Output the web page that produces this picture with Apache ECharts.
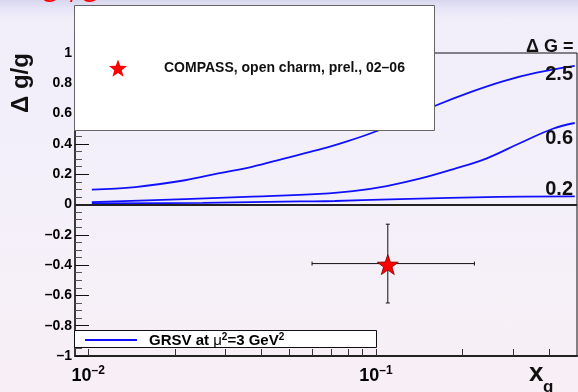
<!DOCTYPE html>
<html><head><meta charset="utf-8">
<script src="https://cdn.jsdelivr.net/npm/echarts@6/dist/echarts.min.js"></script>
<style>
html,body{margin:0;padding:0;}
#c{width:578px;height:392px;background:linear-gradient(to bottom,#d6d6ee 0px,#e6e4f6 8px,#f1eefa 18px,#f3f0fa 45%,#f8eff5 100%);}
</style>
</head><body><div id="c"></div>
<script>
// ---- data ----
const curve25 = [[0.0103,0.098],[0.0146,0.115],[0.0217,0.16],[0.0283,0.205],[0.0371,0.249],[0.0483,0.305],[0.0629,0.36],[0.0721,0.392],[0.0992,0.48],[0.16,0.65],[0.212,0.74],[0.276,0.813],[0.362,0.87],[0.491,0.915]];
const curve06 = [[0.0103,0.016],[0.0217,0.036],[0.0371,0.052],[0.0639,0.07],[0.0832,0.088],[0.109,0.122],[0.142,0.17],[0.185,0.232],[0.243,0.305],[0.316,0.404],[0.412,0.5],[0.491,0.538]];
const curve02 = [[0.0103,0.007],[0.025,0.011],[0.0545,0.02],[0.0721,0.023],[0.112,0.034],[0.18,0.044],[0.268,0.05],[0.491,0.053]];
// point: x, y, xLow, xHigh, yLow, yHigh
const compassPoint = [[0.11, -0.39, 0.06, 0.22, -0.65, -0.13]];
const xTickValues = [0.01,0.02,0.03,0.04,0.05,0.06,0.07,0.08,0.09,0.1,0.2,0.3,0.4];
const xLabelValues = [0.01,0.1];
const curveLabels = ['2.5','0.6','0.2'];
const legendTexts = ['COMPASS, open charm, prel., 02\u201306','GRSV at '];

const FONT = '"Liberation Sans", Arial, Helvetica, sans-serif';
const BLUE = '#1010ff';
const STAR = 'path://M0,-10 L2.35,-3.24 L9.51,-3.09 L3.8,1.24 L5.88,8.09 L0,4 L-5.88,8.09 L-3.8,1.24 L-9.51,-3.09 L-2.35,-3.24 Z';

function starPts(cx, cy, R, r) {
  const p = [];
  for (let i = 0; i < 10; i++) {
    const a = -Math.PI / 2 + i * Math.PI / 5;
    const rad = i % 2 ? r : R;
    p.push([cx + rad * Math.cos(a), cy + rad * Math.sin(a)]);
  }
  return p;
}

const chart = echarts.init(document.getElementById('c'), null, {renderer: 'canvas'});
const lineStyle = {color: BLUE, width: 1.8};
const option = {
  backgroundColor: 'transparent',
  animation: false,
  grid: {left: 75, right: 1, top: 53, bottom: 36, show: true, borderColor: '#111', borderWidth: 1, backgroundColor: 'transparent'},
  xAxis: {
    type: 'log', logBase: 10, min: 0.009, max: 0.5,
    axisLine: {show: true, onZero: false, lineStyle: {color: '#222', width: 2}},
    axisTick: {show: true, inside: true, length: 7, customValues: xTickValues, lineStyle: {color: '#333', width: 1}},
    minorTick: {show: false},
    splitLine: {show: false},
    axisLabel: {
      customValues: xLabelValues, margin: 9,
      formatter: function (v) {
        const e = Math.round(Math.log10(v));
        return '{b|10}{s|' + String(e).replace('-', '\u2013') + '}';
      },
      rich: {
        b: {fontFamily: FONT, fontWeight: 'bold', fontSize: 18, color: '#000', lineHeight: 20, verticalAlign: 'bottom'},
        s: {fontFamily: FONT, fontWeight: 'bold', fontSize: 12, color: '#000', lineHeight: 20, verticalAlign: 'top'}
      }
    }
  },
  yAxis: {
    type: 'value', min: -1, max: 1, interval: 0.2,
    axisLine: {show: true, lineStyle: {color: '#222', width: 1.5}},
    axisTick: {show: true, inside: true, length: 14, lineStyle: {color: '#111', width: 1}},
    minorTick: {show: true, splitNumber: 4, length: 7, lineStyle: {color: '#555', width: 1}},
    splitLine: {show: false},
    axisLabel: {
      margin: 3, fontFamily: FONT, fontWeight: 'bold', fontSize: 14, color: '#000',
      formatter: function (v) { return String(Math.round(v * 10) / 10).replace('-', '\u2013'); }
    }
  },
  series: [
    {type: 'line', name: '\u0394G=2.5', data: curve25, smooth: 0.4, showSymbol: false, lineStyle: lineStyle, z: 3,
     markLine: {silent: true, symbol: 'none', label: {show: false}, lineStyle: {color: '#222', width: 2, type: 'solid'}, data: [{yAxis: 0}]}},
    {type: 'line', name: '\u0394G=0.6', data: curve06, smooth: 0.4, showSymbol: false, lineStyle: lineStyle, z: 3},
    {type: 'line', name: '\u0394G=0.2', data: curve02, smooth: 0.4, showSymbol: false, lineStyle: lineStyle, z: 3},
    {type: 'custom', name: 'errors', data: compassPoint, z: 4,
     renderItem: function (params, api) {
       const x = api.value(0), y = api.value(1);
       const pl = api.coord([api.value(2), y]), ph = api.coord([api.value(3), y]);
       const pb = api.coord([x, api.value(4)]), pt = api.coord([x, api.value(5)]);
       const st = {stroke: '#111', lineWidth: 1};
       const c = 2;
       return {type: 'group', children: [
         {type: 'line', shape: {x1: pl[0], y1: pl[1], x2: ph[0], y2: ph[1]}, style: st},
         {type: 'line', shape: {x1: pt[0], y1: pt[1], x2: pb[0], y2: pb[1]}, style: st},
         {type: 'line', shape: {x1: pl[0], y1: pl[1] - c, x2: pl[0], y2: pl[1] + c}, style: st},
         {type: 'line', shape: {x1: ph[0], y1: ph[1] - c, x2: ph[0], y2: ph[1] + c}, style: st},
         {type: 'line', shape: {x1: pt[0] - c, y1: pt[1], x2: pt[0] + c, y2: pt[1]}, style: st},
         {type: 'line', shape: {x1: pb[0] - c, y1: pb[1], x2: pb[0] + c, y2: pb[1]}, style: st}
       ]};
     }},
    {type: 'scatter', name: 'COMPASS', data: compassPoint.map(p => [p[0], p[1]]), symbol: STAR, symbolSize: [21, 20], symbolOffset: [0, 1],
     itemStyle: {color: '#ff0000', borderColor: '#700', borderWidth: 0.8, opacity: 1}, z: 5}
  ],
  graphic: [
    // red partial title at top
    {type: 'text', z: 100, x: 40, y: 7, style: {text: 'G', font: '24px ' + FONT, fill: '#ff0000', verticalAlign: 'bottom'}},
    {type: 'text', z: 100, x: 70, y: 7, style: {text: '/', font: '24px ' + FONT, fill: '#ff0000', verticalAlign: 'bottom'}},
    {type: 'text', z: 100, x: 80, y: 7, style: {text: 'G', font: '24px ' + FONT, fill: '#ff0000', verticalAlign: 'bottom'}},
    // legend 1
    {type: 'rect', z: 100, shape: {x: 74.5, y: 5.5, width: 360, height: 125}, style: {fill: '#fff', stroke: '#666', lineWidth: 1}},
    {type: 'polygon', z: 101, shape: {points: starPts(118, 69, 9.5, 3.9)}, style: {fill: '#ff0000'}},
    {type: 'text', z: 101, x: 164, y: 68, style: {text: legendTexts[0], font: 'bold 14px ' + FONT, fill: '#111', verticalAlign: 'middle'}},
    // legend 2
    {type: 'rect', z: 100, shape: {x: 74.5, y: 330.5, width: 302, height: 17}, style: {fill: '#fff', stroke: '#111', lineWidth: 1}},
    {type: 'line', z: 101, shape: {x1: 85, y1: 340, x2: 137, y2: 340}, style: {stroke: BLUE, lineWidth: 1.8}},
    {type: 'text', z: 101, x: 149, y: 340, style: {
      text: '{t|' + legendTexts[1] + '}{m|\u03bc}{s|2}{t|=3 GeV}{s|2}',
      verticalAlign: 'middle',
      rich: {
        t: {fontFamily: FONT, fontWeight: 'bold', fontSize: 15, color: '#111', lineHeight: 16, verticalAlign: 'bottom'},
        m: {fontFamily: FONT, fontWeight: 'normal', fontSize: 15, color: '#111', lineHeight: 16, verticalAlign: 'bottom'},
        s: {fontFamily: FONT, fontWeight: 'bold', fontSize: 10, color: '#111', lineHeight: 16, verticalAlign: 'top'}
      }}},
    // curve annotations
    {type: 'text', z: 100, x: 526, y: 47, style: {text: '\u0394 G =', font: 'bold 18px ' + FONT, fill: '#111', verticalAlign: 'middle'}},
    {type: 'text', z: 100, x: 573, y: 74, style: {text: curveLabels[0], font: 'bold 20px ' + FONT, fill: '#111', align: 'right', verticalAlign: 'middle'}},
    {type: 'text', z: 100, x: 573, y: 138, style: {text: curveLabels[1], font: 'bold 20px ' + FONT, fill: '#111', align: 'right', verticalAlign: 'middle'}},
    {type: 'text', z: 100, x: 573, y: 189, style: {text: curveLabels[2], font: 'bold 20px ' + FONT, fill: '#111', align: 'right', verticalAlign: 'middle'}},
    // axis titles
    {type: 'text', z: 100, x: 21, y: 83, rotation: Math.PI / 2, style: {text: '\u0394 g/g', font: 'bold 24px ' + FONT, fill: '#111', align: 'center', verticalAlign: 'middle'}},
    {type: 'text', z: 100, x: 529, y: 387, style: {text: 'x', font: 'bold 26px ' + FONT, fill: '#111', verticalAlign: 'bottom'}},
    {type: 'text', z: 100, x: 543, y: 396, style: {text: 'g', font: 'bold 17px ' + FONT, fill: '#111', verticalAlign: 'bottom'}}
  ]
};
chart.setOption(option);
</script></body></html>
